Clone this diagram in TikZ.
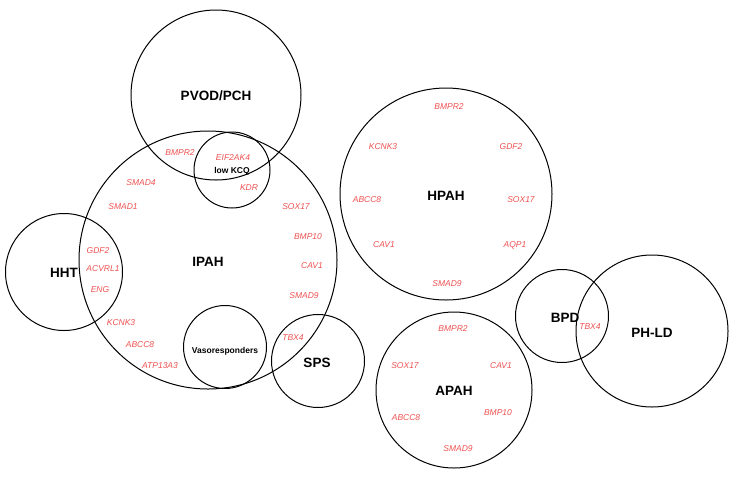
\documentclass[tikz,border=0pt]{standalone}
\usepackage{fontspec}
\setmainfont{Liberation Sans}
\begin{document}
\begin{tikzpicture}[x=1pt,y=-1pt,
  circ/.style={draw=black,line width=1pt,circle,inner sep=0pt},
  gene/.style={text=genered,font=\itshape\fontsize{8.5}{10}\selectfont,inner sep=0pt},
  ttl/.style={font=\bfseries\fontsize{13.5}{15}\selectfont,inner sep=0pt},
  sttl/.style={font=\bfseries\fontsize{8.5}{10}\selectfont,inner sep=0pt}]
\definecolor{genered}{RGB}{238,80,80}
\useasboundingbox (0,0) rectangle (743,480);
\node[circ,minimum size=170pt] (pvod) at (216,95) {};
\node[circ,minimum size=258pt] (ipah) at (208,260) {};
\node[circ,minimum size=76pt] (kcq) at (232,170) {};
\node[circ,minimum size=117pt] (hht) at (64,272) {};
\node[circ,minimum size=83pt] (vaso) at (225,347) {};
\node[circ,minimum size=93pt] (sps) at (318,361) {};
\node[circ,minimum size=212pt] (hpah) at (446,194) {};
\node[circ,minimum size=156pt] (apah) at (454,390) {};
\node[circ,minimum size=93pt] (bpd) at (562,316) {};
\node[circ,minimum size=152pt] (phld) at (652,331) {};
\node[ttl] (t1) at (216,96) {PVOD/PCH};
\node[ttl] (t2) at (208,262) {IPAH};
\node[sttl] (t3) at (232,171) {low KCQ};
\node[ttl] (t4) at (64,273) {HHT};
\node[sttl] (t5) at (225,351) {Vasoresponders};
\node[ttl] (t6) at (317,363) {SPS};
\node[ttl] (t7) at (446,196) {HPAH};
\node[ttl] (t8) at (454,391) {APAH};
\node[ttl] (t9) at (565,318) {BPD};
\node[ttl] (t10) at (652,333) {PH-LD};
\foreach \n/\x/\y in {BMPR2/180/153, EIF2AK4/233/158, KDR/249/188, SMAD4/141/183, SMAD1/123/207,
  SOX17/296/207, BMP10/308/237, CAV1/312/266, SMAD9/304/296, TBX4/293/338, GDF2/98/251,
  ACVRL1/103/269, ENG/100/290, KCNK3/121/323, ABCC8/140/345, ATP13A3/160/366,
  BMPR2/449/107, KCNK3/383/147, GDF2/511/147, ABCC8/367/200, SOX17/521/200, CAV1/384/245,
  AQP1/515/245, SMAD9/447/284, BMPR2/453/329, SOX17/405/366, CAV1/501/366, ABCC8/406/418,
  BMP10/498/413, SMAD9/458/449, TBX4/590/327}
  \node[gene] at (\x,\y) {\n};
\end{tikzpicture}
\end{document}
